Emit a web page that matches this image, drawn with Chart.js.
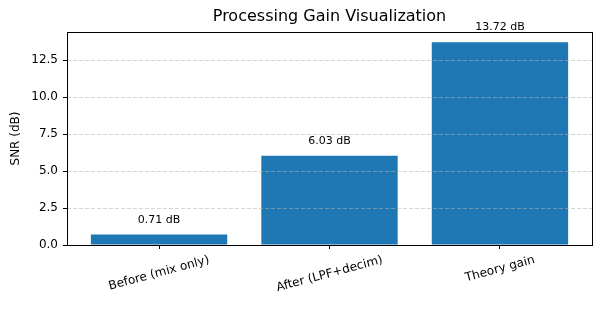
<!DOCTYPE html>
<html>
<head>
<meta charset="utf-8">
<script src="https://cdn.jsdelivr.net/npm/chart.js@4"></script>
<style>
  html, body { margin: 0; padding: 0; background: #fff; }
  #wrap { width: 601px; height: 309px; }
</style>
</head>
<body>
<div id="wrap"><canvas id="gain-bar" width="601" height="309"></canvas></div>
<script>
const chartTitle = 'Processing Gain Visualization';
const categories = ['Before (mix only)', 'After (LPF+decim)', 'Theory gain'];
const snrValues = [0.71, 6.03, 13.72];
const valueLabels = ['0.71 dB', '6.03 dB', '13.72 dB'];
const yTicks = [0, 2.5, 5, 7.5, 10, 12.5];

const FONT = '"DejaVu Sans", sans-serif';
Chart.defaults.font.family = FONT;
Chart.defaults.color = '#000';

// title over the plot area, frame, value labels, rotated category labels
const extras = {
  id: 'extras',
  afterDraw(chart) {
    const ctx = chart.ctx;
    const a = chart.chartArea;
    const xs = chart.scales.x, ys = chart.scales.y;
    ctx.save();
    ctx.fillStyle = '#000';
    ctx.textAlign = 'center';

    ctx.font = '16px ' + FONT;
    ctx.textBaseline = 'middle';
    ctx.fillText(chartTitle, (a.left + a.right) / 2, 16.5);

    ctx.font = '11px ' + FONT;
    ctx.textBaseline = 'alphabetic';
    snrValues.forEach((v, i) => {
      ctx.fillText(valueLabels[i], xs.getPixelForValue(i), ys.getPixelForValue(v) - 12);
    });

    ctx.strokeStyle = '#000';
    ctx.lineWidth = 1;
    ctx.strokeRect(Math.round(a.left) + 0.5, Math.round(a.top) + 0.5,
                   Math.round(a.right - a.left), Math.round(a.bottom - a.top));

    ctx.font = '12px ' + FONT;
    const ang = 15 * Math.PI / 180;
    categories.forEach((c, i) => {
      const w = ctx.measureText(c).width, h = 12;
      const bh = w * Math.sin(ang) + h * Math.cos(ang);
      ctx.save();
      ctx.translate(xs.getPixelForValue(i), a.bottom + 9 + bh / 2);
      ctx.rotate(-ang);
      ctx.textBaseline = 'middle';
      ctx.fillText(c, 0, 0);
      ctx.restore();
    });
    ctx.restore();
  }
};

const ctx = document.getElementById('gain-bar').getContext('2d');
new Chart(ctx, {
  type: 'bar',
  data: {
    datasets: [{
      data: snrValues.map((v, i) => ({ x: i, y: v })),
      backgroundColor: '#1f77b4',
      borderWidth: 0,
      categoryPercentage: 1,
      barPercentage: 0.8
    }]
  },
  options: {
    responsive: false,
    animation: false,
    layout: { padding: { left: 0, right: 9, top: 32, bottom: 0 } },
    plugins: {
      legend: { display: false },
      tooltip: { enabled: false }
    },
    scales: {
      x: {
        type: 'linear',
        min: -0.54,
        max: 2.54,
        offset: false,
        afterBuildTicks(s) { s.ticks = categories.map((c, i) => ({ value: i })); },
        afterFit(s) { s.height = 64; },
        ticks: { display: false },
        grid: { drawOnChartArea: false, offset: false, tickLength: 4, tickColor: '#000' },
        border: { display: false }
      },
      y: {
        min: 0,
        max: 14.41,
        afterBuildTicks(s) { s.ticks = yTicks.map(v => ({ value: v })); },
        afterFit(s) { s.width = 67; },
        ticks: { callback: v => v.toFixed(1), color: '#000', font: { size: 12 }, padding: 5 },
        grid: { color: 'rgba(180,180,180,0.55)', z: 1, tickColor: '#000', tickLength: 4, tickBorderDash: [] },
        border: { display: false, dash: [4, 2] },
        title: { display: true, text: 'SNR (dB)', color: '#000', font: { size: 12 }, padding: { top: 9, bottom: 0 } }
      }
    }
  },
  plugins: [extras]
});
</script>
</body>
</html>
